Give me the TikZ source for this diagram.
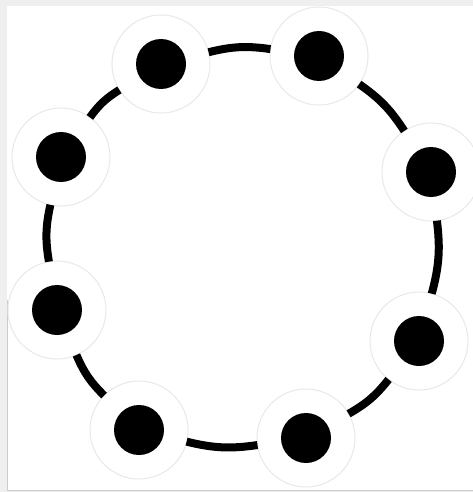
\documentclass[tikz,border=0pt]{standalone}
\definecolor{bggray}{HTML}{EFEFEF}
\definecolor{halogray}{HTML}{E8E8E8}
\tikzset{
  halo/.style={circle, draw=halogray, line width=1pt, fill=white, minimum size=98pt, inner sep=0pt, outer sep=0pt},
  link/.style={line width=8pt, black, bend left=11},
}
\begin{document}
\begin{tikzpicture}[x=1pt,y=-1pt]
\useasboundingbox (0,0) rectangle (473,492);
\fill[bggray] (0,0) rectangle (473,492);
\fill[white] (7,6) rectangle (473,490);
\draw[gray!40, line width=0.8pt] (7,300) -- (7,490) -- (473,490);
\node[halo] (a) at (161,64) {};
\node[halo] (b) at (319,56) {};
\node[halo] (c) at (431,172) {};
\node[halo] (d) at (419,341) {};
\node[halo] (e) at (306,438) {};
\node[halo] (f) at (139,430) {};
\node[halo] (g) at (57,310) {};
\node[halo] (h) at (61,157) {};
\foreach \u/\v in {a/b,b/c,c/d,d/e,e/f,f/g,g/h,h/a}
  \draw[link] (\u) to (\v);
\foreach \n in {a,b,c,d,e,f,g,h}
  \fill[black] (\n.center) circle[radius=25pt];
\end{tikzpicture}
\end{document}
